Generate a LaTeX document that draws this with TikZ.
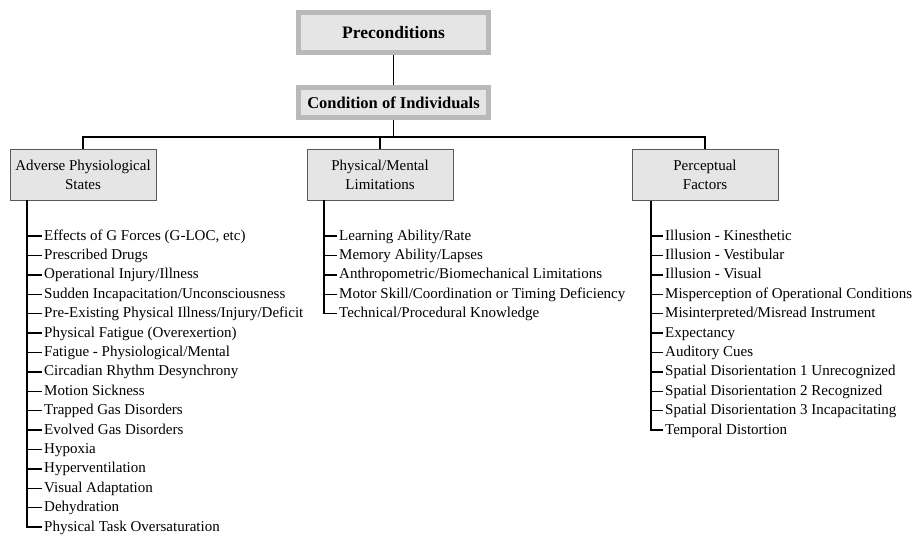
\documentclass[tikz,border=0pt]{standalone}
\usepackage{fontspec}
\setmainfont{Liberation Serif}
\usepackage{xcolor}

\begin{document}
\begin{tikzpicture}[
    x=1pt, y=-1pt,
    line width=1.4pt,
    head node/.style={draw=gray!55, line width=5pt, fill=gray!20, inner sep=0pt, font=\fontsize{17.5}{20}\selectfont\bfseries},
    group node/.style={draw=gray!70!black, line width=0.6pt, fill=gray!20, minimum width=146pt, minimum height=51pt, inner sep=1pt, align=center, font=\fontsize{15}{19}\selectfont},
    item node/.style={anchor=west, inner sep=1.5pt, text height=10.5pt, text depth=2.5pt, font=\fontsize{15}{18}\selectfont}
]
    \useasboundingbox (0,0) rectangle (922,536);

    % Head boxes
    \node[head node, minimum width=190pt, minimum height=40pt] (pre) at (393.5,32.5) {Preconditions};
    \node[head node, minimum width=190pt, minimum height=30pt, font=\fontsize{16.5}{19}\selectfont\bfseries] (cond) at (393.5,102.5) {Condition of Individuals};

    % Group boxes
    \node[group node] (adverse) at (83,174.5) {Adverse Physiological\\States};
    \node[group node] (physical) at (380,174.5) {Physical/Mental\\Limitations};
    \node[group node] (perceptual) at (705,175) {Perceptual\\Factors};

    % Bus and trunks
    \coordinate (bus) at (0,137);
    \coordinate (atrunk) at (27,0);
    \coordinate (btrunk) at (324,0);
    \coordinate (ctrunk) at (651,0);

    \draw (pre) -- (cond);
    \draw (cond.south) -- (cond.south |- bus);
    \draw (adverse.north) |- (bus -| perceptual.north) -- (perceptual.north);
    \draw (physical.north) -- (physical.north |- bus);

    % Adverse Physiological States
    \foreach \txt [count=\i] in {{Effects of G Forces (G-LOC, etc)}, Prescribed Drugs,
        Operational Injury/Illness, Sudden Incapacitation/Unconsciousness,
        Pre-Existing Physical Illness/Injury/Deficit, Physical Fatigue (Overexertion),
        Fatigue - Physiological/Mental, Circadian Rhythm Desynchrony, Motion Sickness,
        Trapped Gas Disorders, Evolved Gas Disorders, Hypoxia, Hyperventilation,
        Visual Adaptation, Dehydration, Physical Task Oversaturation} {
        \node[item node] (a\i) at (42,{216.6+19.4*\i}) {\txt};
        \draw (a\i.west) -- (a\i.west -| atrunk);
    }
    \draw (adverse.south -| atrunk) |- (a16.west);

    % Physical/Mental Limitations
    \foreach \txt [count=\i] in {Learning Ability/Rate, Memory Ability/Lapses,
        Anthropometric/Biomechanical Limitations,
        Motor Skill/Coordination or Timing Deficiency,
        Technical/Procedural Knowledge} {
        \node[item node] (b\i) at (337,{216.6+19.4*\i}) {\txt};
        \draw (b\i.west) -- (b\i.west -| btrunk);
    }
    \draw (physical.south -| btrunk) |- (b5.west);

    % Perceptual Factors
    \foreach \txt [count=\i] in {Illusion - Kinesthetic, Illusion - Vestibular,
        Illusion - Visual, Misperception of Operational Conditions,
        Misinterpreted/Misread Instrument, Expectancy, Auditory Cues,
        Spatial Disorientation 1 Unrecognized, Spatial Disorientation 2 Recognized,
        Spatial Disorientation 3 Incapacitating, Temporal Distortion} {
        \node[item node] (c\i) at (663,{216.6+19.4*\i}) {\txt};
        \draw (c\i.west) -- (c\i.west -| ctrunk);
    }
    \draw (perceptual.south -| ctrunk) |- (c11.west);
\end{tikzpicture}
\end{document}
